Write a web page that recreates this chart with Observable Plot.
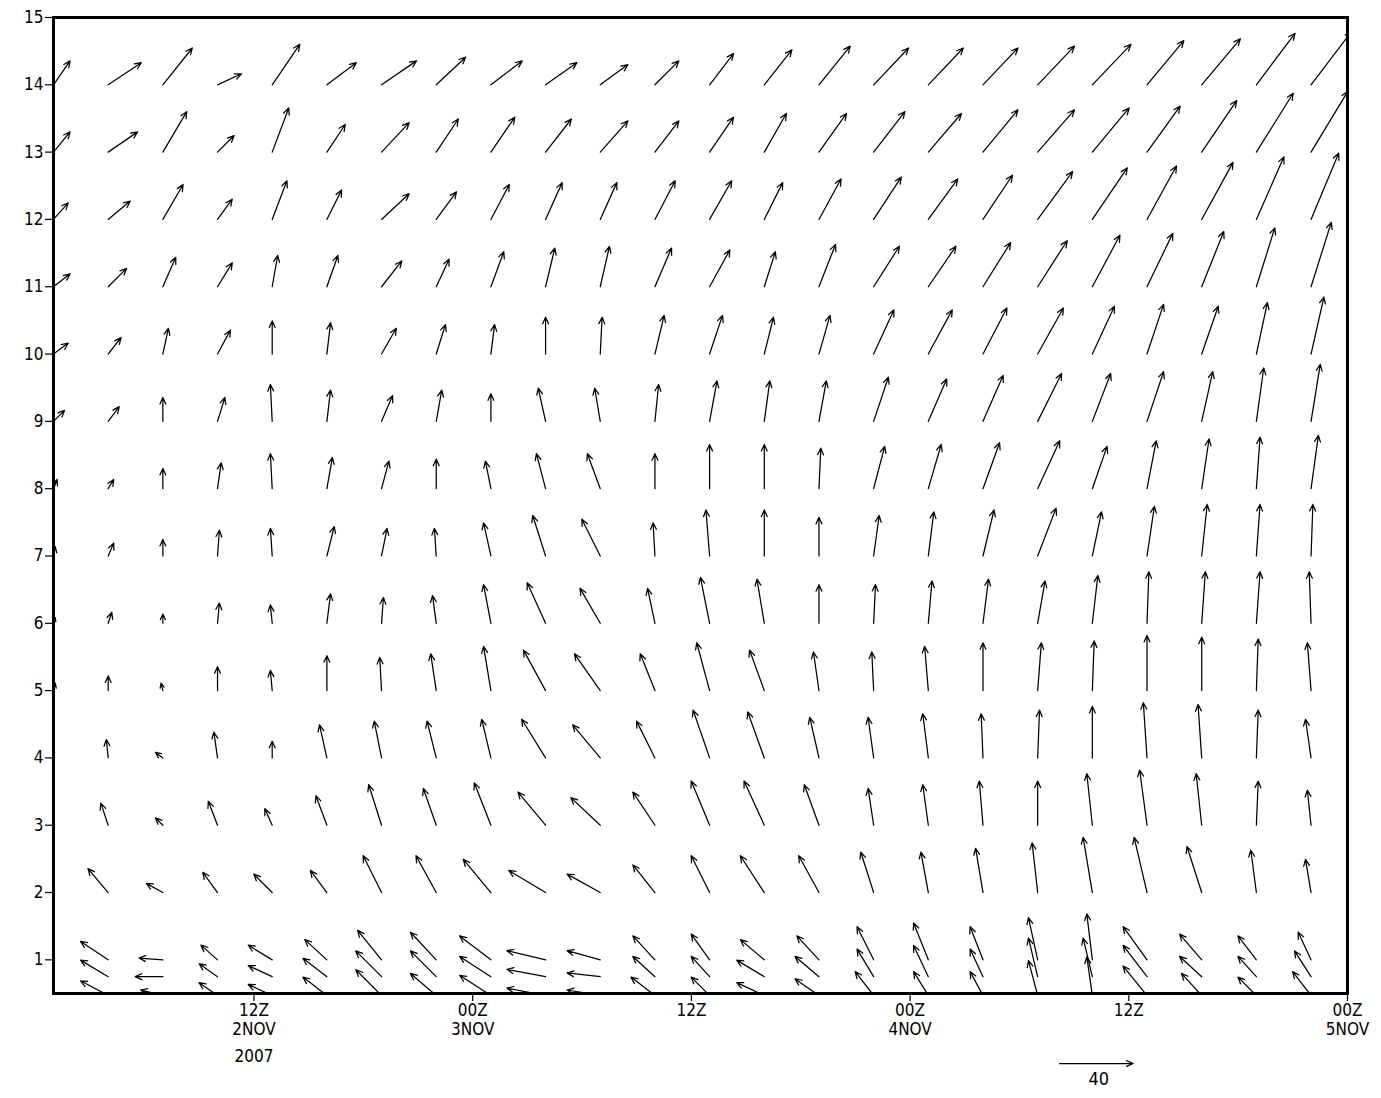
<!DOCTYPE html>
<html><head><meta charset="utf-8">
<script src="https://cdn.jsdelivr.net/npm/d3@7"></script>
<script src="https://cdn.jsdelivr.net/npm/@observablehq/plot@0.6"></script>
<style>
body { margin:0; background:#fff; }
#chart svg { display:block; }
</style></head><body><div id="chart"></div>
<script>
// time columns (every 3 h)
const times = ["2007-11-02T01:00Z","2007-11-02T04:00Z","2007-11-02T07:00Z","2007-11-02T10:00Z","2007-11-02T13:00Z","2007-11-02T16:00Z","2007-11-02T19:00Z","2007-11-02T22:00Z","2007-11-03T01:00Z","2007-11-03T04:00Z","2007-11-03T07:00Z","2007-11-03T10:00Z","2007-11-03T13:00Z","2007-11-03T16:00Z","2007-11-03T19:00Z","2007-11-03T22:00Z","2007-11-04T01:00Z","2007-11-04T04:00Z","2007-11-04T07:00Z","2007-11-04T10:00Z","2007-11-04T13:00Z","2007-11-04T16:00Z","2007-11-04T19:00Z","2007-11-04T22:00Z"];
const timeEnd = "2007-11-05T00:00Z";

// levels
const levels = [14,13,12,11,10,9,8,7,6,5,4,3,2,1,0.75,0.47];

// u (eastward) and v (northward) components per level
const u14 = [9,18,16,13,15,16,19,16,17,17,15,13,13,15,17,19,19,19,20,21,20,21,21,22];
const v14 = [13,12,20,6,22,12,13,15,13,12,11,13,17,19,21,20,20,20,21,22,24,25,28,29];
const u13 = [9,16,13,9,9,10,15,12,13,14,15,13,13,12,15,17,18,19,20,20,18,19,20,20];
const v13 = [11,11,22,9,24,15,16,18,19,18,17,17,19,21,21,22,21,23,23,24,25,28,32,33];
const u12 = [8,12,11,8,8,8,15,11,10,9,9,11,12,10,12,15,16,16,19,19,16,17,15,15];
const v12 = [9,10,19,11,21,16,14,15,19,20,20,21,21,20,22,23,22,24,26,28,29,31,34,36];
const u11 = [9,10,7,8,3,6,11,7,7,5,5,9,11,6,9,14,15,15,16,15,14,12,10,11];
const v11 = [7,10,16,13,17,17,14,15,19,21,22,21,20,19,23,22,22,24,25,28,29,30,32,35];
const u10 = [8,7,3,7,0,2,8,5,2,0,1,5,7,5,6,11,13,13,14,12,9,9,6,7];
const v10 = [6,9,14,13,18,17,14,16,16,20,20,21,21,20,21,24,24,25,25,26,27,26,28,31];
const u9 = [6,6,0,4,-1,2,6,3,0,-4,-3,2,4,3,4,8,10,11,13,10,9,6,4,5];
const v9 = [6,8,13,13,20,17,14,17,15,18,18,20,22,22,22,24,23,25,26,26,27,27,29,31];
const u8 = [2,3,0,2,-1,3,4,0,-3,-5,-7,0,0,0,1,6,7,9,12,8,5,4,2,4];
const v8 = [5,5,11,14,19,17,15,16,15,19,19,19,24,24,22,23,24,25,26,23,26,27,28,29];
const u7 = [1,3,0,1,-1,4,3,-1,-4,-7,-10,-1,-2,0,0,3,3,6,10,5,4,3,2,1];
const v7 = [5,7,9,14,15,16,15,15,18,22,20,18,25,25,21,22,24,25,26,24,27,28,28,28];
const u6 = [1,2,0,1,-1,2,1,-2,-4,-10,-11,-4,-5,-4,0,1,2,3,4,3,1,2,2,-1];
const v6 = [3,6,5,11,10,16,14,15,21,22,19,19,25,24,21,21,23,24,23,26,28,28,28,28];
const u5 = [1,0,-1,0,-1,0,-1,-3,-4,-12,-14,-8,-7,-8,-3,-1,-2,0,2,1,0,0,1,-2];
const v5 = [4,8,4,13,11,19,18,20,24,22,20,20,26,22,21,21,24,26,26,27,30,29,28,26];
const u4 = [-2,-1,-4,-2,0,-4,-4,-5,-5,-13,-15,-10,-9,-9,-5,-3,-3,-1,1,0,-2,-2,1,-3];
const v4 = [6,10,3,14,9,18,20,20,21,21,18,20,26,25,22,22,24,24,26,28,30,29,26,21];
const u3 = [-3,-4,-4,-5,-4,-6,-7,-7,-9,-15,-16,-12,-10,-11,-8,-3,-3,-2,0,-3,-4,-3,1,-2];
const v3 = [7,12,4,13,9,16,22,20,23,18,15,18,24,24,22,20,22,24,24,28,30,28,24,19];
const u2 = [-8,-11,-9,-8,-10,-9,-10,-11,-15,-20,-18,-12,-10,-13,-11,-7,-4,-4,-3,-5,-7,-8,-3,-3];
const v2 = [5,13,5,11,10,12,20,20,18,12,10,15,20,20,20,22,22,24,27,30,30,25,23,18];
const u1 = [-14,-15,-13,-9,-13,-12,-13,-14,-17,-21,-18,-12,-10,-13,-12,-9,-8,-7,-5,-3,-13,-12,-10,-7];
const v1 = [10,10,1,8,8,11,16,15,13,5,5,13,14,11,13,18,20,18,23,25,18,14,13,15];
const u075 = [-14,-15,-15,-10,-13,-13,-14,-14,-17,-21,-18,-12,-10,-15,-13,-9,-8,-7,-5,-5,-13,-12,-10,-9];
const v075 = [8,9,0,7,6,10,14,14,11,4,2,11,11,9,11,15,17,15,21,21,17,11,11,14];
const u047 = [-14,-15,-12,-10,-13,-13,-14,-14,-17,-21,-18,-13,-10,-15,-13,-10,-8,-7,-5,-3,-13,-11,-10,-10];
const v047 = [8,8,3,7,6,10,14,12,11,4,3,10,10,7,9,13,13,13,19,21,16,12,10,13];

// axes
const yTicks = [1,2,3,4,5,6,7,8,9,10,11,12,13,14,15];
const xTicks = ["2007-11-02T12:00Z","2007-11-03T00:00Z","2007-11-03T12:00Z","2007-11-04T00:00Z","2007-11-04T12:00Z","2007-11-05T00:00Z"];
const xTickLabels = ["12Z\n2NOV","00Z\n3NOV","12Z","00Z\n4NOV","12Z","00Z\n5NOV"];
const yearLabel = "2007";
const refSpeed = 40;

// build table
const U = [u14,u13,u12,u11,u10,u9,u8,u7,u6,u5,u4,u3,u2,u1,u075,u047];
const V = [v14,v13,v12,v11,v10,v9,v8,v7,v6,v5,v4,v3,v2,v1,v075,v047];
const rows = [];
levels.forEach((lev, j) => {
  times.forEach((t, i) => {
    const u = U[j][i], v = V[j][i];
    rows.push({time: new Date(t), level: lev, u, v,
      speed: Math.hypot(u, v), dir: Math.atan2(u, v) * 180 / Math.PI});
  });
});

const labelMap = new Map(xTicks.map((d, i) => [+new Date(d), xTickLabels[i]]));

// GrADS-like arrow: fixed-size open head
const gradsArrow = {
  draw(context, l) {
    const h = Math.min(6.5, l * 0.6), w = h * 0.45;
    context.moveTo(0, 0);
    context.lineTo(0, -l);
    context.moveTo(-w, h - l);
    context.lineTo(0, -l);
    context.lineTo(w, h - l);
  }
};

const font = '"Liberation Sans Narrow","DejaVu Sans Condensed","Roboto Condensed","Arial Narrow",sans-serif';

const chart = Plot.plot({
  width: 1381,
  height: 1098,
  marginLeft: 53,
  marginRight: 34,
  marginTop: 17,
  marginBottom: 105,
  style: {fontFamily: font, fontSize: "17px", color: "#000", background: "#fff", fontStretch: "condensed"},
  x: {type: "utc", domain: [new Date(times[0]), new Date(timeEnd)], label: null},
  y: {domain: [0.5, 15], label: null},
  length: {domain: [0, 40], range: [0, 73.6]},
  marks: [
    Plot.vector(rows, {x: "time", y: "level", length: "speed", rotate: "dir",
      anchor: "start", shape: gradsArrow, stroke: "#000", strokeWidth: 1.25, clip: true}),
    Plot.frame({stroke: "#000", strokeWidth: 3}),
    Plot.axisY(yTicks, {tickSize: 8, tickPadding: 2, tickFormat: d => String(d), label: null, strokeWidth: 1.2}),
    Plot.axisX(xTicks.map(d => new Date(d)), {tickSize: 8, tickPadding: 1, lineHeight: 1.12,
      tickFormat: d => labelMap.get(+d), label: null, strokeWidth: 1.2}),
    Plot.axisX([new Date(xTicks[0])], {tickSize: 0, tickPadding: 56, tickFormat: () => yearLabel, label: null}),
    Plot.vector([refSpeed], {length: d => d, rotate: 90, anchor: "start", shape: gradsArrow,
      frameAnchor: "bottom-left", dx: 1006, dy: 70, stroke: "#000", strokeWidth: 1.25}),
    Plot.text([refSpeed], {text: d => String(d), frameAnchor: "bottom-left", dx: 1035, dy: 91,
      fontSize: 18})
  ]
});
document.getElementById("chart").appendChild(chart);
</script>
</body></html>
